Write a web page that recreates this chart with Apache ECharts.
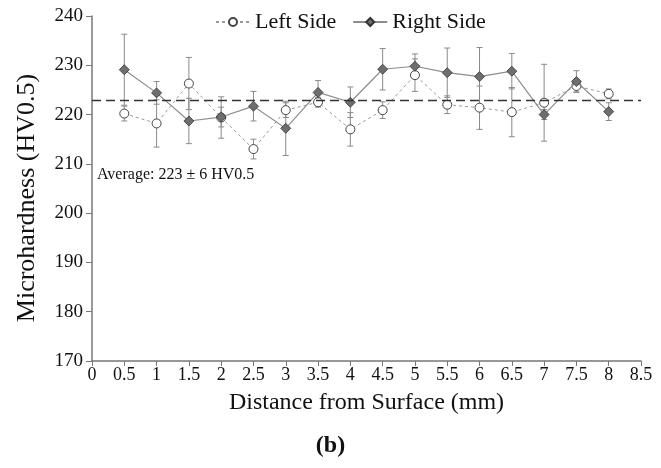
<!DOCTYPE html>
<html>
<head>
<meta charset="utf-8">
<script src="https://cdn.jsdelivr.net/npm/echarts@6/dist/echarts.min.js"></script>
<style>
  html, body { margin: 0; padding: 0; background: #fff; }
  #chart { width: 661px; height: 468px; }
</style>
</head>
<body>
<div id="chart"></div>
<script>
// Distance from surface (mm)
var distances = [0.5, 1, 1.5, 2, 2.5, 3, 3.5, 4, 4.5, 5, 5.5, 6, 6.5, 7, 7.5, 8];
// Mean microhardness (HV0.5) and standard deviation, left side
var leftMean = [220.2, 218.2, 226.3, 219.4, 213.0, 220.9, 222.5, 217.0, 220.9, 228.0, 222.0, 221.4, 220.5, 222.4, 225.8, 224.2];
var leftErr  = [1.5, 4.8, 5.3, 4.2, 2.0, 1.5, 1.0, 3.4, 1.7, 3.3, 1.8, 4.4, 5.0, 7.8, 1.2, 1.0];
// Mean microhardness (HV0.5) and standard deviation, right side
var rightMean = [229.1, 224.4, 218.7, 219.5, 221.7, 217.2, 224.5, 222.5, 229.2, 229.8, 228.5, 227.7, 228.8, 220.0, 226.7, 220.6];
var rightErr  = [7.2, 2.3, 4.6, 2.0, 3.0, 5.5, 2.4, 3.1, 4.2, 2.5, 5.0, 5.9, 3.6, 1.0, 2.2, 1.8];
// Overall average
var averageValue = 223;
var averageText = 'Average: 223 \u00b1 6 HV0.5';
var yTitle = 'Microhardness (HV0.5)';
var xTitle = 'Distance from Surface (mm)';

var serif = '"Liberation Serif", "Times New Roman", serif';

function pairs(xs, ys) {
  return xs.map(function (x, i) { return [x, ys[i]]; });
}
function errRows(xs, m, e) {
  return xs.map(function (x, i) { return [x, m[i] - e[i], m[i] + e[i]]; });
}

function renderErrorBar(params, api) {
  var x = api.value(0);
  var lo = api.coord([x, api.value(1)]);
  var hi = api.coord([x, api.value(2)]);
  var cap = 3;
  var style = { stroke: '#8a8a8a', lineWidth: 1 };
  return {
    type: 'group',
    children: [
      { type: 'line', shape: { x1: lo[0], y1: lo[1], x2: hi[0], y2: hi[1] }, style: style },
      { type: 'line', shape: { x1: lo[0] - cap, y1: lo[1], x2: lo[0] + cap, y2: lo[1] }, style: style },
      { type: 'line', shape: { x1: hi[0] - cap, y1: hi[1], x2: hi[0] + cap, y2: hi[1] }, style: style }
    ]
  };
}

var chart = echarts.init(document.getElementById('chart'), null, { renderer: 'canvas' });

chart.setOption({
  animation: false,
  backgroundColor: '#fff',
  textStyle: { fontFamily: serif },
  grid: { left: 92, right: 20, top: 16, bottom: 107, containLabel: false },
  legend: {
    top: 6,
    left: 210,
    itemWidth: 34,
    itemHeight: 10,
    itemGap: 16,
    textStyle: { fontFamily: serif, fontSize: 22, color: '#111' },
    data: ['Left Side', 'Right Side']
  },
  xAxis: {
    type: 'value',
    min: 0,
    max: 8.5,
    interval: 0.5,
    name: xTitle,
    nameLocation: 'middle',
    nameGap: 30,
    nameTextStyle: { fontFamily: serif, fontSize: 24, color: '#111' },
    axisLine: { lineStyle: { color: '#777', width: 1.5 } },
    axisTick: { show: true, inside: false, length: 5, lineStyle: { color: '#777' } },
    axisLabel: { fontFamily: serif, fontSize: 18, color: '#111', margin: 5 },
    splitLine: { show: false }
  },
  yAxis: {
    type: 'value',
    min: 170,
    max: 240,
    interval: 10,
    axisLine: { show: true, lineStyle: { color: '#777', width: 1.5 } },
    axisTick: { show: true, inside: false, length: 6, lineStyle: { color: '#777' } },
    axisLabel: { fontFamily: serif, fontSize: 19, color: '#111', margin: 9 },
    splitLine: { show: false }
  },
  graphic: [
    {
      type: 'text',
      x: 27,
      y: 198,
      rotation: Math.PI / 2,
      style: {
        text: yTitle, font: '26px ' + serif, fill: '#111',
        textAlign: 'center', textVerticalAlign: 'middle'
      }
    },
    {
      type: 'text',
      left: 'center',
      top: 434,
      style: { text: '(b)', font: 'bold 24px ' + serif, fill: '#111' }
    },
    {
      type: 'text',
      left: 97,
      top: 167,
      style: { text: averageText, font: '16px ' + serif, fill: '#111' }
    }
  ],
  series: [
    {
      type: 'custom',
      name: 'leftErr',
      renderItem: renderErrorBar,
      data: errRows(distances, leftMean, leftErr),
      encode: { x: 0, y: [1, 2] },
      z: 1,
      silent: true
    },
    {
      type: 'custom',
      name: 'rightErr',
      renderItem: renderErrorBar,
      data: errRows(distances, rightMean, rightErr),
      encode: { x: 0, y: [1, 2] },
      z: 1,
      silent: true
    },
    {
      type: 'line',
      name: 'Left Side',
      data: pairs(distances, leftMean),
      symbol: 'circle',
      symbolSize: 9,
      z: 3,
      lineStyle: { color: '#9a9a9a', width: 1, type: [3, 3] },
      itemStyle: { color: '#ffffff', borderColor: '#444', borderWidth: 1 },
      markLine: {
        silent: true,
        symbol: 'none',
        label: { show: false },
        lineStyle: { color: '#333', width: 1.3, type: [9, 5] },
        data: [{ yAxis: averageValue }]
      }
    },
    {
      type: 'line',
      name: 'Right Side',
      data: pairs(distances, rightMean),
      symbol: 'diamond',
      symbolSize: 10,
      z: 4,
      lineStyle: { color: '#8c8c8c', width: 1.2, type: 'solid' },
      itemStyle: { color: '#6e6e6e', borderColor: '#333', borderWidth: 0.8 }
    }
  ]
});
</script>
</body>
</html>
